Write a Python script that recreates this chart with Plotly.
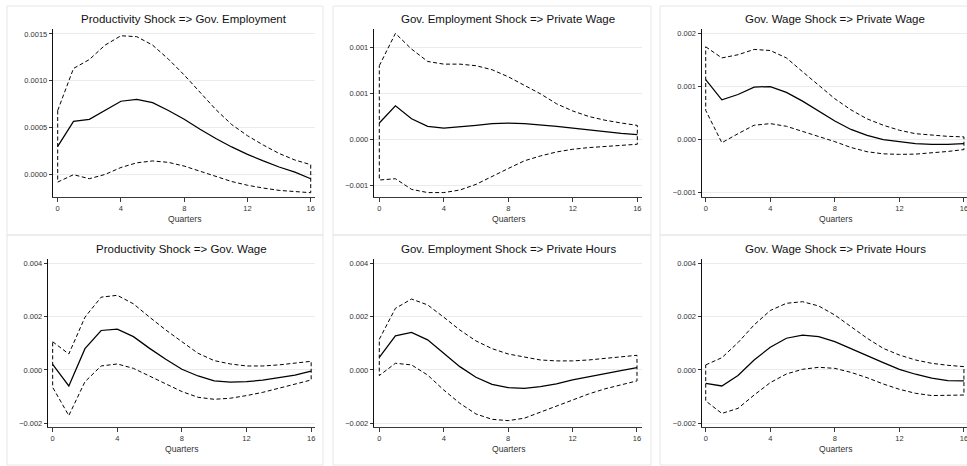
import plotly.graph_objects as go

W, H = 967, 466

quarters = list(range(17))
x_ticks = [0, 4, 8, 12, 16]

titles = [
    "Productivity Shock => Gov. Employment",
    "Gov. Employment Shock => Private Wage",
    "Gov. Wage Shock => Private Wage",
    "Productivity Shock => Gov. Wage",
    "Gov. Employment Shock => Private Hours",
    "Gov. Wage Shock => Private Hours",
]

# Panel 1: Productivity Shock => Gov. Employment
mean_1 = [0.000296, 0.000564, 0.000586, 0.00068, 0.000779, 0.000800, 0.000764, 0.00068, 0.000586,
          0.000480, 0.000380, 0.000290, 0.000210, 0.000140, 0.000075, 0.000020, -0.000050]
upper_1 = [0.00068, 0.00113, 0.001225, 0.00138, 0.00148, 0.00147, 0.00138, 0.00123, 0.00106,
           0.00087, 0.00069, 0.00053, 0.00041, 0.00031, 0.00022, 0.000150, 0.000100]
lower_1 = [-0.000086, -0.000007, -0.000050, -0.000004, 0.000070, 0.000120, 0.000140, 0.000125, 0.000085,
           0.000030, -0.000025, -0.000080, -0.000120, -0.000150, -0.000175, -0.000190, -0.000200]

# Panel 2: Gov. Employment Shock => Private Wage
mean_2 = [0.000180, 0.000366, 0.000226, 0.000143, 0.000125, 0.000136, 0.000154, 0.000172, 0.000179,
          0.000172, 0.000160, 0.000143, 0.000125, 0.000104, 0.000086, 0.000068, 0.000054]
upper_2 = [0.00080, 0.00115, 0.00098, 0.000846, 0.000817, 0.000817, 0.00080, 0.000756, 0.00068,
           0.000584, 0.000495, 0.000387, 0.000310, 0.000250, 0.000210, 0.000180, 0.000154]
lower_2 = [-0.000437, -0.000423, -0.000538, -0.000573, -0.000573, -0.000545, -0.000484, -0.000400, -0.000312,
           -0.000229, -0.000176, -0.000133, -0.000104, -0.000086, -0.000072, -0.000060, -0.000050]

# Panel 3: Gov. Wage Shock => Private Wage
mean_3 = [0.00113, 0.00075, 0.00085, 0.00099, 0.00100, 0.00089, 0.000725, 0.00053, 0.00035,
          0.00019, 0.00008, 0.000000, -0.00004, -0.000075, -0.00009, -0.00009, -0.000075]
upper_3 = [0.00175, 0.00154, 0.00160, 0.00170, 0.00168, 0.00154, 0.00128, 0.00102, 0.00077,
           0.00056, 0.00039, 0.00027, 0.000175, 0.00011, 0.00008, 0.00006, 0.00005]
lower_3 = [0.00055, -0.00006, 0.00011, 0.00027, 0.00030, 0.00025, 0.00016, 0.00006, -0.00004,
           -0.00015, -0.00023, -0.00027, -0.00028, -0.000275, -0.00025, -0.000225, -0.00019]

# Panel 4: Productivity Shock => Gov. Wage
mean_4 = [0.00021, -0.00060, 0.00080, 0.00148, 0.00153, 0.00125, 0.00081, 0.00040, 0.000025,
          -0.000225, -0.00041, -0.00046, -0.00044, -0.00038, -0.00029, -0.00019, -0.00004]
upper_4 = [0.00106, 0.00060, 0.00198, 0.00273, 0.00280, 0.00248, 0.00198, 0.00150, 0.00106,
           0.000625, 0.00035, 0.000225, 0.00015, 0.00015, 0.00019, 0.00025, 0.000325]
lower_4 = [-0.00065, -0.00171, -0.00044, 0.00015, 0.000225, 0.00006, -0.000225, -0.000525, -0.00081,
           -0.001025, -0.00110, -0.00106, -0.00096, -0.00084, -0.00069, -0.000525, -0.000375]

# Panel 5: Gov. Employment Shock => Private Hours
mean_5 = [0.000475, 0.00128, 0.00141, 0.00113, 0.000625, 0.000125, -0.000275, -0.00054, -0.00066,
          -0.00069, -0.000625, -0.000525, -0.000375, -0.00025, -0.000125, -0.000025, 0.00009]
upper_5 = [0.00115, 0.00231, 0.00266, 0.00244, 0.00198, 0.00150, 0.00109, 0.00080, 0.00060,
           0.000475, 0.000375, 0.00034, 0.00034, 0.000375, 0.000425, 0.000475, 0.00055]
lower_5 = [-0.00021, 0.00025, 0.00019, -0.00019, -0.00075, -0.00125, -0.00165, -0.00185, -0.00190,
           -0.00181, -0.00160, -0.001375, -0.001125, -0.00090, -0.00071, -0.00056, -0.00041]

# Panel 6: Gov. Wage Shock => Private Hours
mean_6 = [-0.00050, -0.00060, -0.00021, 0.000375, 0.00085, 0.00119, 0.00131, 0.00125, 0.00106,
          0.00081, 0.00054, 0.000275, 0.000025, -0.00016, -0.00031, -0.00040, -0.00041]
upper_6 = [0.00019, 0.00046, 0.001025, 0.00169, 0.00223, 0.00250, 0.00256, 0.00240, 0.00206,
           0.001625, 0.00119, 0.00081, 0.00056, 0.000375, 0.00025, 0.000175, 0.000125]
lower_6 = [-0.00116, -0.00163, -0.00144, -0.00094, -0.000475, -0.00015, 0.000025, 0.00010, 0.00006,
           -0.00009, -0.00029, -0.000525, -0.000725, -0.000875, -0.00096, -0.00096, -0.00094]

y_tickvals = [
    [0.0, 0.0005, 0.0010, 0.0015],
    [-0.0005, 0.0, 0.0005, 0.0010],
    [-0.001, 0.0, 0.001, 0.002],
    [-0.002, 0.0, 0.002, 0.004],
    [-0.002, 0.0, 0.002, 0.004],
    [-0.002, 0.0, 0.002, 0.004],
]
y_ticktext = [
    ["0.0000", "0.0005", "0.0010", "0.0015"],
    ["\u22120.001", "0.000", "0.001", "0.001"],
    ["\u22120.001", "0.000", "0.001", "0.002"],
    ["\u22120.002", "0.000", "0.002", "0.004"],
    ["\u22120.002", "0.000", "0.002", "0.004"],
    ["\u22120.002", "0.000", "0.002", "0.004"],
]

means = [mean_1, mean_2, mean_3, mean_4, mean_5, mean_6]
uppers = [upper_1, upper_2, upper_3, upper_4, upper_5, upper_6]
lowers = [lower_1, lower_2, lower_3, lower_4, lower_5, lower_6]

# layout geometry (pixels)
x_dom_px = [(53.3, 315.0), (374.3, 642.0), (702.0, 967.0),
            (48.3, 315.2), (374.3, 642.3), (702.0, 967.0)]
x_ranges = [(-0.278, 16.27), (-0.31, 16.29), (-0.23, 16.19),
            (-0.27, 16.25), (-0.31, 16.33), (-0.23, 16.19)]
y_dom_px = [(29.3, 197.3)] * 3 + [(259.3, 427.3)] * 3
y_ranges = [(-0.000249, 0.001549), (-0.000624, 0.001194), (-0.00109, 0.00208),
            (-0.00215, 0.00415), (-0.00215, 0.00415), (-0.00215, 0.00415)]
title_y_px = [19.3] * 3 + [249.3] * 3
xlab_y_px = [219.0] * 3 + [449.0] * 3
panel_boxes = [(7, 6, 323, 235), (333, 6, 651, 235), (660, 6, 980, 235),
               (7, 235, 323, 465), (333, 235, 651, 465), (660, 235, 980, 465)]

FONT = "Liberation Sans, Arial, Helvetica, sans-serif"

fig = go.Figure()
layout = dict(
    width=W, height=H, margin=dict(l=0, r=0, t=0, b=0),
    paper_bgcolor="white", plot_bgcolor="white", showlegend=False,
    font=dict(family=FONT, color="#222"),
    annotations=[], shapes=[],
)

for i in range(6):
    n = i + 1
    xa = "x" if n == 1 else f"x{n}"
    ya = "y" if n == 1 else f"y{n}"
    # CI band outline (closed path)
    cx = quarters + quarters[::-1] + [quarters[0]]
    cy = uppers[i] + lowers[i][::-1] + [uppers[i][0]]
    fig.add_trace(go.Scatter(x=cx, y=cy, mode="lines", xaxis=xa, yaxis=ya,
                             line=dict(color="black", width=1, dash="4px,2.5px"),
                             hoverinfo="skip"))
    fig.add_trace(go.Scatter(x=quarters, y=means[i], mode="lines", xaxis=xa, yaxis=ya,
                             line=dict(color="black", width=1.25)))
    x0, x1 = x_dom_px[i]
    yt, yb = y_dom_px[i]
    layout["xaxis" if n == 1 else f"xaxis{n}"] = dict(
        domain=[x0 / W, min(x1 / W, 1.0)], range=list(x_ranges[i]), anchor=ya,
        tickvals=x_ticks, ticktext=[str(v) for v in x_ticks],
        showgrid=False, zeroline=False, showline=True, linecolor="#3a3a3a", linewidth=1,
        ticks="outside", ticklen=3.5, tickwidth=1, tickcolor="#3a3a3a",
        ticklabeloverflow="allow",
        tickfont=dict(size=7.5, family=FONT, color="#333"), fixedrange=True,
    )
    layout["yaxis" if n == 1 else f"yaxis{n}"] = dict(
        domain=[1 - yb / H, 1 - yt / H], range=list(y_ranges[i]), anchor=xa,
        tickvals=y_tickvals[i], ticktext=y_ticktext[i],
        showgrid=True, gridcolor="#ebebeb", gridwidth=1, zeroline=False,
        showline=True, linecolor="#111", linewidth=1,
        ticks="outside", ticklen=3.5, tickwidth=1, tickcolor="#333",
        tickfont=dict(size=7.5, family=FONT, color="#333"), fixedrange=True,
    )
    cxp = (x0 + x1) / 2
    if i % 3 == 2:
        cxp = (x0 + 968.5) / 2
    layout["annotations"].append(dict(
        text=titles[i], x=cxp / W, y=1 - title_y_px[i] / H, xref="paper", yref="paper",
        xanchor="center", yanchor="middle", showarrow=False,
        font=dict(size=11.5, family=FONT, color="#111")))
    layout["annotations"].append(dict(
        text="Quarters", x=cxp / W, y=1 - xlab_y_px[i] / H, xref="paper", yref="paper",
        xanchor="center", yanchor="middle", showarrow=False,
        font=dict(size=8.6, family=FONT, color="#333")))
    bx0, by0, bx1, by1 = panel_boxes[i]
    layout["shapes"].append(dict(
        type="rect", xref="paper", yref="paper", layer="below",
        x0=bx0 / W, x1=bx1 / W, y0=1 - by1 / H, y1=1 - by0 / H,
        line=dict(color="#e6e6e6", width=1), fillcolor="rgba(0,0,0,0)"))

fig.update_layout(**layout)
fig.write_html(
    "out.html",
    config={"displayModeBar": False},
    post_script="document.body.style.margin='0px';document.body.style.overflow='hidden';",
)
